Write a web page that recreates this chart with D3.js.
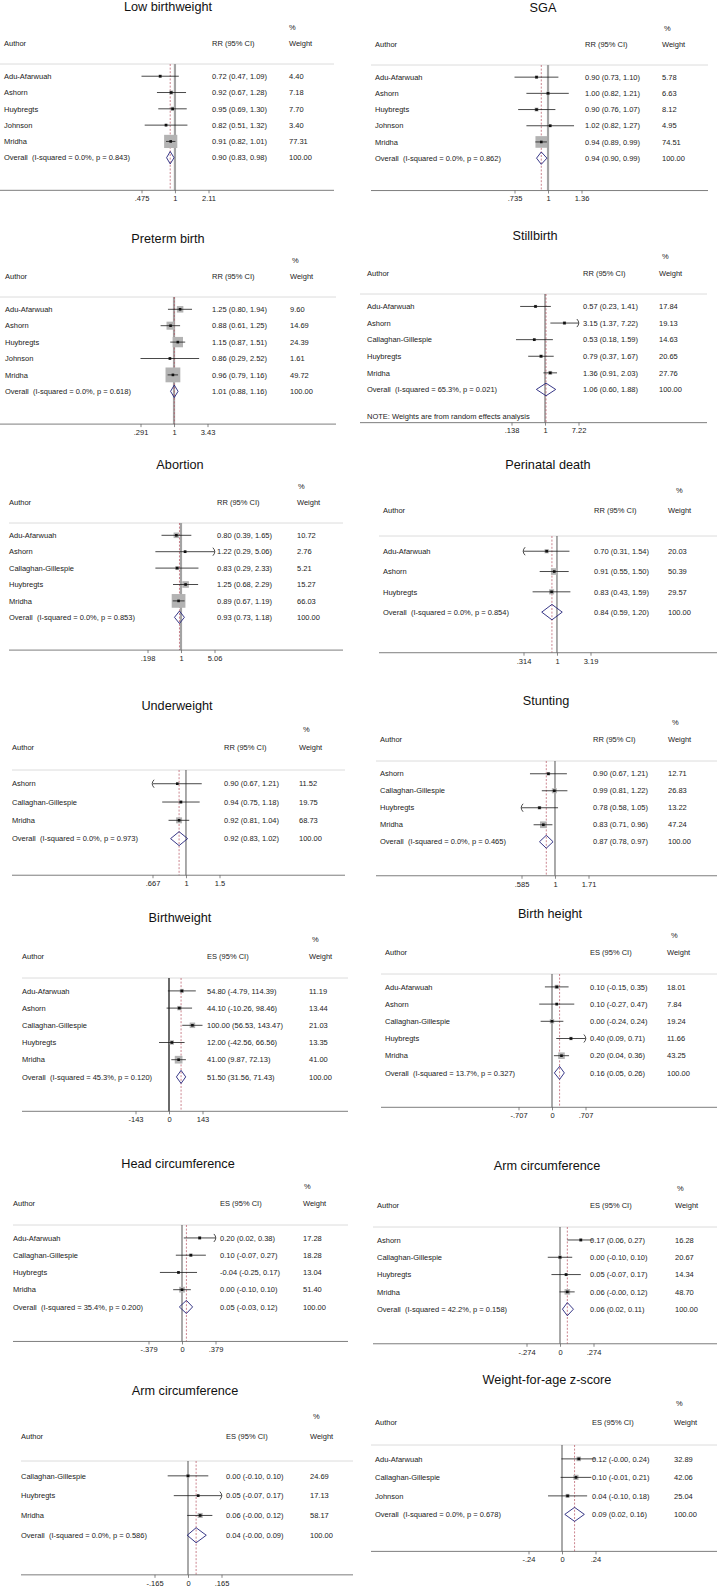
<!DOCTYPE html>
<html>
<head>
<meta charset="utf-8">
<script src="https://cdn.jsdelivr.net/npm/d3@7"></script>
<style>
  body { margin: 0; background: #fff; }
  text { font-family: "Liberation Sans", Arial, Helvetica, sans-serif; }
</style>
</head>
<body>
<svg id="chart" width="717" height="1589"></svg>
<script>
// ---- data ----
var titles = ["Low birthweight", "SGA", "Preterm birth", "Stillbirth", "Abortion", "Perinatal death",
              "Underweight", "Stunting", "Birthweight", "Birth height", "Head circumference",
              "Arm circumference", "Arm circumference", "Weight-for-age z-score"];
var measures = ["RR", "RR", "RR", "RR", "RR", "RR", "RR", "RR", "ES", "ES", "ES", "ES", "ES", "ES"];

// [author, estimate, lower, upper, weight]
var lbwRows = [["Adu-Afarwuah", 0.72, 0.47, 1.09, 4.40], ["Ashorn", 0.92, 0.67, 1.28, 7.18],
  ["Huybregts", 0.95, 0.69, 1.30, 7.70], ["Johnson", 0.82, 0.51, 1.32, 3.40], ["Mridha", 0.91, 0.82, 1.01, 77.31]];
var sgaRows = [["Adu-Afarwuah", 0.90, 0.73, 1.10, 5.78], ["Ashorn", 1.00, 0.82, 1.21, 6.63],
  ["Huybregts", 0.90, 0.76, 1.07, 8.12], ["Johnson", 1.02, 0.82, 1.27, 4.95], ["Mridha", 0.94, 0.89, 0.99, 74.51]];
var pretermRows = [["Adu-Afarwuah", 1.25, 0.80, 1.94, 9.60], ["Ashorn", 0.88, 0.61, 1.25, 14.69],
  ["Huybregts", 1.15, 0.87, 1.51, 24.39], ["Johnson", 0.86, 0.29, 2.52, 1.61], ["Mridha", 0.96, 0.79, 1.16, 49.72]];
var stillbirthRows = [["Adu-Afarwuah", 0.57, 0.23, 1.41, 17.84], ["Ashorn", 3.15, 1.37, 7.22, 19.13],
  ["Callaghan-Gillespie", 0.53, 0.18, 1.59, 14.63], ["Huybregts", 0.79, 0.37, 1.67, 20.65], ["Mridha", 1.36, 0.91, 2.03, 27.76]];
var abortionRows = [["Adu-Afarwuah", 0.80, 0.39, 1.65, 10.72], ["Ashorn", 1.22, 0.29, 5.06, 2.76],
  ["Callaghan-Gillespie", 0.83, 0.29, 2.33, 5.21], ["Huybregts", 1.25, 0.68, 2.29, 15.27], ["Mridha", 0.89, 0.67, 1.19, 66.03]];
var perinatalRows = [["Adu-Afarwuah", 0.70, 0.31, 1.54, 20.03], ["Ashorn", 0.91, 0.55, 1.50, 50.39],
  ["Huybregts", 0.83, 0.43, 1.59, 29.57]];
var underweightRows = [["Ashorn", 0.90, 0.67, 1.21, 11.52], ["Callaghan-Gillespie", 0.94, 0.75, 1.18, 19.75],
  ["Mridha", 0.92, 0.81, 1.04, 68.73]];
var stuntingRows = [["Ashorn", 0.90, 0.67, 1.21, 12.71], ["Callaghan-Gillespie", 0.99, 0.81, 1.22, 26.83],
  ["Huybregts", 0.78, 0.58, 1.05, 13.22], ["Mridha", 0.83, 0.71, 0.96, 47.24]];
var birthweightRows = [["Adu-Afarwuah", 54.80, -4.79, 114.39, 11.19], ["Ashorn", 44.10, -10.26, 98.46, 13.44],
  ["Callaghan-Gillespie", 100.00, 56.53, 143.47, 21.03], ["Huybregts", 12.00, -42.56, 66.56, 13.35],
  ["Mridha", 41.00, 9.87, 72.13, 41.00]];
var birthHeightRows = [["Adu-Afarwuah", 0.10, -0.15, 0.35, 18.01], ["Ashorn", 0.10, -0.27, 0.47, 7.84],
  ["Callaghan-Gillespie", 0.00, -0.24, 0.24, 19.24], ["Huybregts", 0.40, 0.09, 0.71, 11.66], ["Mridha", 0.20, 0.04, 0.36, 43.25]];
var headRows = [["Adu-Afarwuah", 0.20, 0.02, 0.38, 17.28], ["Callaghan-Gillespie", 0.10, -0.07, 0.27, 18.28],
  ["Huybregts", -0.04, -0.25, 0.17, 13.04], ["Mridha", 0.00, -0.10, 0.10, 51.40]];
var armRowsA = [["Ashorn", 0.17, 0.06, 0.27, 16.28], ["Callaghan-Gillespie", 0.00, -0.10, 0.10, 20.67],
  ["Huybregts", 0.05, -0.07, 0.17, 14.34], ["Mridha", 0.06, -0.004, 0.12, 48.70]];
var armRowsB = [["Callaghan-Gillespie", 0.00, -0.10, 0.10, 24.69], ["Huybregts", 0.05, -0.07, 0.17, 17.13],
  ["Mridha", 0.06, -0.004, 0.12, 58.17]];
var wfaRows = [["Adu-Afarwuah", 0.12, -0.004, 0.24, 32.89], ["Callaghan-Gillespie", 0.10, -0.01, 0.21, 42.06],
  ["Johnson", 0.04, -0.10, 0.18, 25.04]];

var studyRows = [lbwRows, sgaRows, pretermRows, stillbirthRows, abortionRows, perinatalRows, underweightRows,
  stuntingRows, birthweightRows, birthHeightRows, headRows, armRowsA, armRowsB, wfaRows];

// pooled [estimate, lower, upper, I-squared, p]
var overall = [[0.90, 0.83, 0.98, "0.0%", "0.843"], [0.94, 0.90, 0.99, "0.0%", "0.862"],
  [1.01, 0.88, 1.16, "0.0%", "0.618"], [1.06, 0.60, 1.88, "65.3%", "0.021"],
  [0.93, 0.73, 1.18, "0.0%", "0.853"], [0.84, 0.59, 1.20, "0.0%", "0.854"],
  [0.92, 0.83, 1.02, "0.0%", "0.973"], [0.87, 0.78, 0.97, "0.0%", "0.465"],
  [51.50, 31.56, 71.43, "45.3%", "0.120"], [0.16, 0.05, 0.26, "13.7%", "0.327"],
  [0.05, -0.03, 0.12, "35.4%", "0.200"], [0.06, 0.02, 0.11, "42.2%", "0.158"],
  [0.04, -0.004, 0.09, "0.0%", "0.586"], [0.09, 0.02, 0.16, "0.0%", "0.678"]];

var axisTicks = [[0.475, 1, 2.11], [0.735, 1, 1.36], [0.291, 1, 3.43], [0.138, 1, 7.22],
  [0.198, 1, 5.06], [0.314, 1, 3.19], [0.667, 1, 1.5], [0.585, 1, 1.71],
  [-143, 0, 143], [-0.707, 0, 0.707], [-0.379, 0, 0.379], [-0.274, 0, 0.274],
  [-0.165, 0, 0.165], [-0.24, 0, 0.24]];

// CIs that run off the axis and get an arrow: [panel, author, end]
var clipped = [[3, "Ashorn", "hi"], [4, "Ashorn", "hi"], [5, "Adu-Afarwuah", "lo"], [6, "Ashorn", "lo"],
  [7, "Huybregts", "lo"], [9, "Huybregts", "hi"], [10, "Adu-Afarwuah", "hi"], [12, "Huybregts", "hi"]];

var notes = {3: "NOTE: Weights are from random effects analysis"};

// ---- layout of each small plot ----
var layout = [
  {x0: 0,   x1: 334, ax: 4,   ci: 212, wt: 289, cx: 175, tx: 168, rule: 64,   step: 16.3,  ref: "gray", box: 1.5,  pc: 0},
  {x0: 371, x1: 708, ax: 375, ci: 585, wt: 662, cx: 548, tx: 543, rule: 65,   step: 16.2,  ref: "gray", box: 1.35, pc: 2},
  {x0: 0,   x1: 336, ax: 5,   ci: 212, wt: 290, cx: 174, tx: 168, rule: 297,  step: 16.4,  ref: "gray", box: 2.1,  pc: 2},
  {x0: 360, x1: 707, ax: 367, ci: 583, wt: 659, cx: 545, tx: 535, rule: 294,  step: 16.6,  ref: "thin", box: 0.75, pc: 3},
  {x0: 9,   x1: 343, ax: 9,   ci: 217, wt: 297, cx: 181, tx: 180, rule: 523,  step: 16.4,  ref: "gray", box: 1.69, pc: 1},
  {x0: 379, x1: 717, ax: 383, ci: 594, wt: 668, cx: 557, tx: 548, rule: 536,  step: 20.3,  ref: "thin", box: 0.94, pc: 8},
  {x0: 12,  x1: 345, ax: 12,  ci: 224, wt: 299, cx: 186, tx: 177, rule: 770,  step: 18.3,  ref: "thin", box: 0.72, pc: 4},
  {x0: 376, x1: 717, ax: 380, ci: 593, wt: 668, cx: 555, tx: 546, rule: 761,  step: 17,    ref: "thin", box: 0.97, pc: 4},
  {x0: 22,  x1: 348, ax: 22,  ci: 207, wt: 309, cx: 169, tx: 180, rule: 978,  step: 17.2,  ref: "dark", box: 1.2,  pc: 3},
  {x0: 381, x1: 717, ax: 385, ci: 590, wt: 667, cx: 552, tx: 550, rule: 974,  step: 17.2,  ref: "thin", box: 1.0,  pc: 4},
  {x0: 13,  x1: 348, ax: 13,  ci: 220, wt: 303, cx: 182, tx: 178, rule: 1225, step: 17.25, ref: "thin", box: 0.8,  pc: 1},
  {x0: 373, x1: 717, ax: 377, ci: 590, wt: 675, cx: 560, tx: 547, rule: 1227, step: 17.3,  ref: "thin", box: 0.8,  pc: 2},
  {x0: 21,  x1: 353, ax: 21,  ci: 226, wt: 310, cx: 188, tx: 185, rule: 1461, step: 19.8,  ref: "thin", box: 0.66, pc: 3},
  {x0: 371, x1: 717, ax: 375, ci: 592, wt: 674, cx: 562, tx: 547, rule: 1445, step: 18.5,  ref: "thin", box: 0.8,  pc: 2}
];

var refStyles = {
  gray: {stroke: "#a3a3a3", width: 2.2},
  dark: {stroke: "#5a5a5a", width: 1.8},
  thin: {stroke: "#2a2a2a", width: 0.8}
};

var svg = d3.select("#chart");
var FS = 7.5;
var fmt = function(v) { return v.toFixed(2); };
var tickFmt = function(v) { return String(v).replace(/^(-?)0\./, "$1."); };

studyRows.forEach(function(rows, i) {
  var L = layout[i];
  var g = svg.append("g");
  var t = axisTicks[i];
  var ratio = measures[i] === "RR";
  var x = (ratio ? d3.scaleLog() : d3.scaleLinear())
    .domain([t[0], t[2]]).range([L.cx - 33.5, L.cx + 33.5]);
  var clamp = function(v) { return Math.max(t[0], Math.min(t[2], v)); };
  var rowY = function(k) { return L.rule + (k + 0.75) * L.step; };
  var axisY = rowY(rows.length + 2);
  var ov = overall[i];

  // headings
  g.append("text").attr("x", L.tx).attr("y", L.rule - 3.55 * L.step + 4.6)
    .attr("text-anchor", "middle").attr("font-size", 12.7).attr("fill", "#111").text(titles[i]);
  g.append("text").attr("x", L.wt + L.pc).attr("y", L.rule - 2.25 * L.step + 2.7)
    .attr("font-size", FS).attr("fill", "#222").text("%");
  var hy = L.rule - 1.25 * L.step + 2.7;
  g.append("text").attr("x", L.ax).attr("y", hy).attr("font-size", FS).attr("fill", "#222").text("Author");
  g.append("text").attr("x", L.ci).attr("y", hy).attr("font-size", FS).attr("fill", "#222").text(measures[i] + " (95% CI)");
  g.append("text").attr("x", L.wt).attr("y", hy).attr("font-size", FS).attr("fill", "#222").text("Weight");

  g.append("line").attr("x1", L.x0).attr("x2", L.x1).attr("y1", L.rule).attr("y2", L.rule)
    .attr("stroke", "#dcdcdc").attr("stroke-width", 1);

  // line of no effect and pooled estimate
  var rs = refStyles[L.ref];
  g.append("line").attr("x1", x(t[1])).attr("x2", x(t[1])).attr("y1", L.rule).attr("y2", axisY)
    .attr("stroke", rs.stroke).attr("stroke-width", rs.width);
  g.append("line").attr("x1", x(ov[0])).attr("x2", x(ov[0])).attr("y1", L.rule).attr("y2", axisY)
    .attr("stroke", "#b5505f").attr("stroke-width", 0.7).attr("stroke-dasharray", "2,1.6");

  // studies
  var rg = g.selectAll("g.row").data(rows).join("g").attr("class", "row");
  rg.append("rect")
    .attr("x", function(d) { return x(d[1]) - L.box * Math.sqrt(d[4]) / 2; })
    .attr("y", function(d, k) { return rowY(k) - L.box * Math.sqrt(d[4]) / 2; })
    .attr("width", function(d) { return L.box * Math.sqrt(d[4]); })
    .attr("height", function(d) { return L.box * Math.sqrt(d[4]); })
    .attr("fill", "#b3b3b3");
  rg.append("line")
    .attr("x1", function(d) { return x(clamp(d[2])); })
    .attr("x2", function(d) { return x(clamp(d[3])); })
    .attr("y1", function(d, k) { return rowY(k); })
    .attr("y2", function(d, k) { return rowY(k); })
    .attr("stroke", "#1a1a1a").attr("stroke-width", 0.8);
  rg.append("rect")
    .attr("x", function(d) { return x(d[1]) - 1.3; })
    .attr("y", function(d, k) { return rowY(k) - 1.3; })
    .attr("width", 2.6).attr("height", 2.6).attr("fill", "#111");
  rg.append("text").attr("x", L.ax).attr("y", function(d, k) { return rowY(k) + 2.7; })
    .attr("font-size", FS).attr("fill", "#222").text(function(d) { return d[0]; });
  rg.append("text").attr("x", L.ci).attr("y", function(d, k) { return rowY(k) + 2.7; })
    .attr("font-size", FS).attr("fill", "#222")
    .text(function(d) { return fmt(d[1]) + " (" + fmt(d[2]) + ", " + fmt(d[3]) + ")"; });
  rg.append("text").attr("x", L.wt).attr("y", function(d, k) { return rowY(k) + 2.7; })
    .attr("font-size", FS).attr("fill", "#222").text(function(d) { return fmt(d[4]); });

  // arrows where the interval leaves the axis range
  clipped.filter(function(c) { return c[0] === i; }).forEach(function(c) {
    var k = rows.findIndex(function(r) { return r[0] === c[1]; });
    var y = rowY(k);
    var xe = c[2] === "hi" ? x(t[2]) : x(t[0]);
    var s = c[2] === "hi" ? 1 : -1;
    g.append("path")
      .attr("d", "M" + (xe - s * 1.6) + "," + (y - 4) + "Q" + (xe + s * 2.2) + "," + y + " " + (xe - s * 1.6) + "," + (y + 4))
      .attr("fill", "none").attr("stroke", "#1a1a1a").attr("stroke-width", 0.8);
  });

  // pooled diamond
  var oy = rowY(rows.length), h = 0.38 * L.step;
  g.append("path")
    .attr("d", "M" + x(ov[1]) + "," + oy + "L" + x(ov[0]) + "," + (oy - h) + "L" + x(ov[2]) + "," + oy +
      "L" + x(ov[0]) + "," + (oy + h) + "Z")
    .attr("fill", "none").attr("stroke", "#23237a").attr("stroke-width", 0.9);
  g.append("text").attr("x", L.ax).attr("y", oy + 2.7).attr("font-size", FS).attr("fill", "#222")
    .style("white-space", "pre").text("Overall  (I-squared = " + ov[3] + ", p = " + ov[4] + ")");
  g.append("text").attr("x", L.ci).attr("y", oy + 2.7).attr("font-size", FS).attr("fill", "#222")
    .text(fmt(ov[0]) + " (" + fmt(ov[1]) + ", " + fmt(ov[2]) + ")");
  g.append("text").attr("x", L.wt).attr("y", oy + 2.7).attr("font-size", FS).attr("fill", "#222").text("100.00");

  if (notes[i]) {
    g.append("text").attr("x", L.ax).attr("y", rowY(rows.length + 1.6) + 2.7)
      .attr("font-size", FS).attr("fill", "#222").text(notes[i]);
  }

  // x axis
  g.append("line").attr("x1", L.x0).attr("x2", L.x1).attr("y1", axisY).attr("y2", axisY)
    .attr("stroke", "#6e6e6e").attr("stroke-width", 0.9);
  var axg = g.append("g").attr("transform", "translate(0," + axisY + ")")
    .call(d3.axisBottom(x).tickValues(t).tickFormat(tickFmt).tickSize(3).tickPadding(2.5));
  axg.select(".domain").remove();
  axg.attr("font-family", null).attr("font-size", null);
  axg.selectAll("line").attr("stroke", "#555").attr("stroke-width", 0.7);
  axg.selectAll("text").attr("font-size", FS).attr("fill", "#222");
});
</script>
</body>
</html>
